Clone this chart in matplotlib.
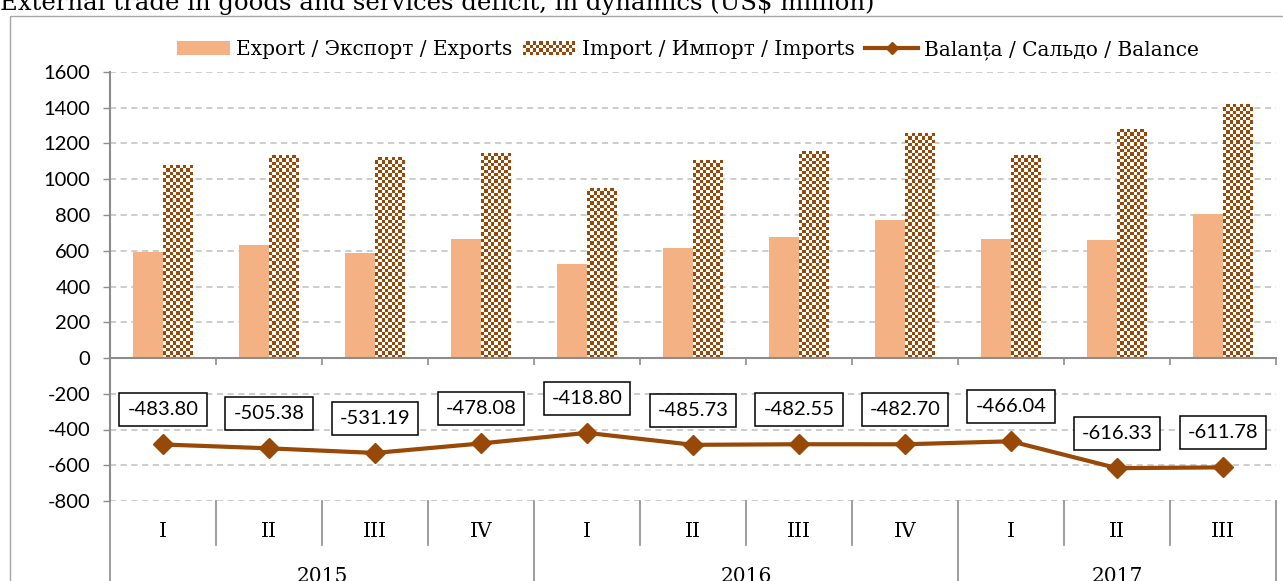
import numpy as np
import matplotlib
matplotlib.use('Agg')
import matplotlib.pyplot as plt
from matplotlib.colors import ListedColormap
from matplotlib.patches import Rectangle
from matplotlib.lines import Line2D
from matplotlib.legend_handler import HandlerBase

# ---------------- data ----------------
quarters = ['I', 'II', 'III', 'IV', 'I', 'II', 'III', 'IV', 'I', 'II', 'III']
years = ['2015', '2016', '2017']
year_quarters = [4, 4, 3]
exports = [595, 630, 588, 665, 528, 617, 675, 773, 665, 660, 806]
imports = [1079, 1135, 1119, 1143, 947, 1103, 1158, 1256, 1131, 1276, 1418]
balance = [-483.80, -505.38, -531.19, -478.08, -418.80, -485.73, -482.55,
           -482.70, -466.04, -616.33, -611.78]
yticks = [-800, -600, -400, -200, 0, 200, 400, 600, 800, 1000, 1200, 1400, 1600]
title = 'External trade in goods and services deficit, in dynamics (US$ million)'
series_names = ['Export / Экспорт / Exports', 'Import / Импорт / Imports',
                'Balanța / Сальдо / Balance']

# ---------------- style ----------------
EXP_C = '#F4B183'
BROWN = '#984807'
GRID_C = '#BFBFBF'
AX_C = '#8C8C8C'
SERIF = 'DejaVu Serif'
SANS = 'Lato'

W, H = 1283, 581
fig = plt.figure(figsize=(W / 100, H / 100), dpi=100)
ax = fig.add_axes([110 / W, 80 / H, 1166 / W, 429 / H])

n = len(quarters)
x = np.arange(n)
bw = 0.283

ax.set_xlim(-0.5, n - 0.5)
ax.set_ylim(yticks[0], yticks[-1])

ax.bar(x - bw / 2, exports, bw, color=EXP_C, zorder=2)
imp_bars = ax.bar(x + bw / 2, imports, bw, color='none', edgecolor='none', zorder=2)

# checkerboard fill for import bars
cmap = ListedColormap(['white', BROWN])
for rect in imp_bars:
    x0, w, h = rect.get_x(), rect.get_width(), rect.get_height()
    p0 = ax.transData.transform((x0, 0))
    p1 = ax.transData.transform((x0 + w, h))
    ncol = max(1, int(round((p1[0] - p0[0]) / 3.3)))
    nrow = max(1, int(round((p1[1] - p0[1]) / 3.3)))
    ii, jj = np.indices((nrow, ncol))
    arr = (ii + jj) % 2
    ax.imshow(arr, extent=(x0, x0 + w, 0, h), origin='lower', cmap=cmap,
              interpolation='nearest', aspect='auto', zorder=2)
ax.set_xlim(-0.5, n - 0.5)
ax.set_ylim(yticks[0], yticks[-1])
ax.set_aspect('auto')

# balance line
ax.plot(x, balance, color=BROWN, lw=3, marker='D', ms=10, zorder=4)
for xi, b in zip(x, balance):
    ax.annotate(f'{b:.2f}', (xi, b), xytext=(0, 25), textcoords='offset points',
                ha='center', va='center', fontsize=14.5, family=SANS, zorder=5,
                bbox=dict(boxstyle='square,pad=0.4', fc='white', ec='black', lw=1.1))

# grid and axes
ax.set_yticks(yticks)
ax.set_yticklabels([str(v) for v in yticks], fontsize=14.5, family=SANS)
ax.yaxis.grid(True, color=GRID_C, ls=(0, (4, 3)), lw=1.1, zorder=0)
ax.set_axisbelow(True)
for s in ['top', 'right']:
    ax.spines[s].set_visible(False)
ax.spines['left'].set_color(AX_C)
ax.spines['left'].set_linewidth(1.5)
ax.spines['bottom'].set_position(('data', 0))
ax.spines['bottom'].set_color(AX_C)
ax.spines['bottom'].set_linewidth(1.5)
ax.tick_params(axis='y', length=5, color=AX_C, width=1, pad=9)
ax.set_xticks(np.arange(n + 1) - 0.5)
ax.set_xticklabels([])
ax.tick_params(axis='x', length=5, color=AX_C, width=1.2, direction='out')

# category axis below the plot
trans = ax.get_xaxis_transform()
bounds = [-0.5]
for k in year_quarters:
    bounds.append(bounds[-1] + k)
for b in np.arange(n + 1) - 0.5:
    full = any(abs(b - yb) < 1e-9 for yb in bounds)
    y1 = -0.3 if full else -0.103
    ax.add_line(Line2D([b, b], [0, y1], transform=trans, color=AX_C, lw=1.2,
                       clip_on=False))
for xi, q in zip(x, quarters):
    ax.text(xi, -0.07, q, transform=trans, ha='center', va='center',
            fontsize=14.5, family=SERIF)
for k, yr in enumerate(years):
    c = (bounds[k] + bounds[k + 1]) / 2
    ax.text(c, -0.175, yr, transform=trans, ha='center', va='center',
            fontsize=14.5, family=SERIF)


# legend
class CheckerHandler(HandlerBase):
    def create_artists(self, legend, orig_handle, xdescent, ydescent, width,
                       height, fontsize, trans):
        arts = [Rectangle((-xdescent, -ydescent), width, height, fc='white',
                          ec='none', transform=trans)]
        ncol, nrow = 16, 4
        cw, ch = width / ncol, height / nrow
        for i in range(ncol):
            for j in range(nrow):
                if (i + j) % 2 == 0:
                    arts.append(Rectangle((-xdescent + i * cw, -ydescent + j * ch),
                                          cw, ch, fc=BROWN, ec='none',
                                          transform=trans))
        return arts


h_exp = Rectangle((0, 0), 1, 1, fc=EXP_C, ec='none')
h_imp = Rectangle((0, 0), 1, 1, fc='white')
h_bal = Line2D([], [], color=BROWN, lw=3, marker='D', ms=6)
fig.legend([h_exp, h_imp, h_bal], series_names, loc='center',
           bbox_to_anchor=(688 / W, 1 - 50 / H), ncol=3, frameon=False,
           prop=dict(family=SERIF, size=14.5), handlelength=2.6, handleheight=0.65,
           handletextpad=0.3, columnspacing=0.55,
           handler_map={h_imp: CheckerHandler()})

# title (partially cut at top) and outer frame
fig.text(0.0, 1 - 10 / H, title, va='baseline', ha='left', fontsize=17.6,
         family=SERIF)
fig.patches.append(Rectangle((9.5 / W, -0.1), 1.2, 1.1 - 16 / H,
                             transform=fig.transFigure, fill=False,
                             ec='#A6A6A6', lw=1))

fig.savefig('out.png', dpi=100)
